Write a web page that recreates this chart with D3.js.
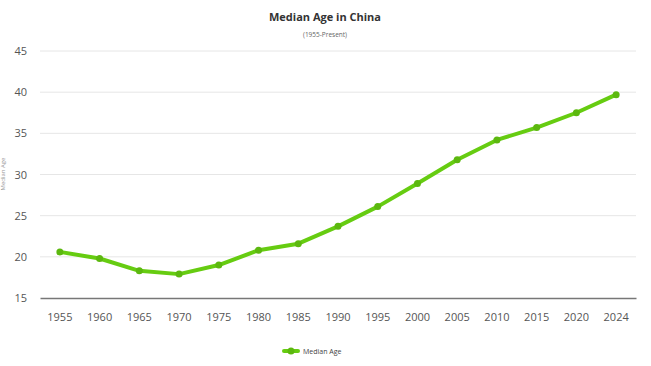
<!DOCTYPE html>
<html><head><meta charset="utf-8">
<script src="https://cdn.jsdelivr.net/npm/d3@7"></script>
<style>body{margin:0;background:#fff;}svg{display:block;font-family:"Open Sans",sans-serif;}</style>
</head><body><svg id="c" width="651" height="366"></svg>
<script>
const years = ["1955","1960","1965","1970","1975","1980","1985","1990","1995","2000","2005","2010","2015","2020","2024"];
const medianAge = [20.6,19.8,18.3,17.9,19.0,20.8,21.6,23.7,26.1,28.9,31.8,34.2,35.7,37.5,39.7];
const yTicks = [15,20,25,30,35,40,45];

const svg = d3.select("#c");
const m = {l:40, r:15, t:51, b:68};
const W = 651, H = 366;
const x = d3.scaleBand().domain(years).range([m.l, W - m.r]);
const y = d3.scaleLinear().domain([15,45]).range([H - m.b, m.t]);

// gridlines
svg.append("g").selectAll("line").data(yTicks.slice(1)).join("line")
  .attr("x1", m.l).attr("x2", W - m.r)
  .attr("y1", d => y(d)).attr("y2", d => y(d))
  .attr("stroke", "#e6e6e6").attr("stroke-width", 1);

// y axis labels
const ya = svg.append("g").attr("transform", `translate(${m.l},0)`)
  .call(d3.axisLeft(y).tickValues(yTicks).tickSize(0).tickPadding(13));
ya.select(".domain").remove();
ya.selectAll("text").attr("font-size", 11).attr("fill", "#555").attr("font-family", "Open Sans, sans-serif");

// x axis
const xa = svg.append("g").attr("transform", `translate(0,${y(15)})`)
  .call(d3.axisBottom(x).tickSize(0).tickPadding(15));
xa.select(".domain").attr("stroke", "#777").attr("stroke-width", 1.5);
xa.selectAll("text").attr("font-size", 11).attr("fill", "#555").attr("font-family", "Open Sans, sans-serif");

// line
const cx = d => x(d) + x.bandwidth()/2;
const line = d3.line().x((d,i) => cx(years[i])).y(d => y(d));
svg.append("path").datum(medianAge).attr("d", line)
  .attr("fill", "none").attr("stroke", "#66cc11").attr("stroke-width", 4)
  .attr("stroke-linejoin", "round").attr("stroke-linecap", "round");
svg.append("g").selectAll("circle").data(medianAge).join("circle")
  .attr("cx", (d,i) => cx(years[i])).attr("cy", d => y(d)).attr("r", 3.5)
  .attr("fill", "#5cb80f");

// titles
svg.append("text").attr("x", 325).attr("y", 21).attr("text-anchor", "middle")
  .attr("font-size", 11).attr("font-weight", "bold").attr("fill", "#333").text("Median Age in China");
svg.append("text").attr("x", 325).attr("y", 37).attr("text-anchor", "middle")
  .attr("font-size", 6.5).attr("fill", "#666").text("(1955-Present)");

// y axis title
svg.append("text").attr("transform", "translate(5,174) rotate(-90)").attr("text-anchor", "middle")
  .attr("font-size", 6).attr("fill", "#999").text("Median Age");

// legend
const lg = svg.append("g");
lg.append("line").attr("x1", 284).attr("x2", 298).attr("y1", 351).attr("y2", 351)
  .attr("stroke", "#66cc11").attr("stroke-width", 4).attr("stroke-linecap", "round");
lg.append("circle").attr("cx", 291).attr("cy", 351).attr("r", 3.5).attr("fill", "#5cb80f");
lg.append("text").attr("x", 303).attr("y", 353.5).attr("font-size", 7).attr("fill", "#444").text("Median Age");
</script></body></html>
